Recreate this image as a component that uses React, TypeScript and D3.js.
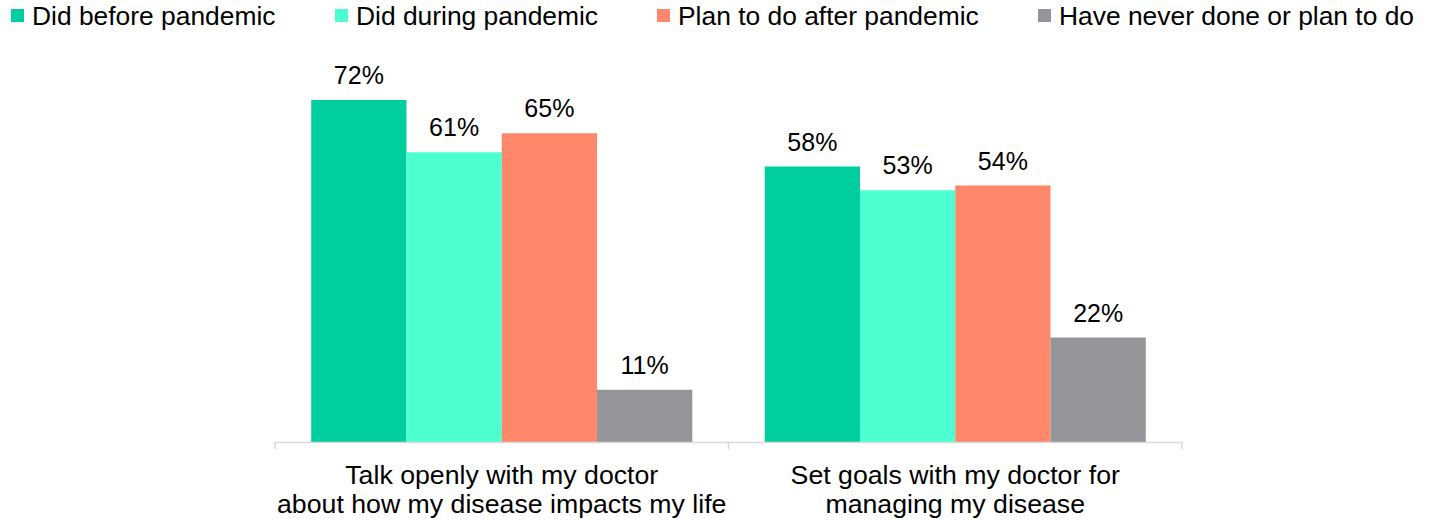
import React from "react";
import * as d3 from "d3";

const categories = [
  ["Talk openly with my doctor", "about how my disease impacts my life"],
  ["Set goals with my doctor for", "managing my disease"],
];
const seriesNames = [
  "Did before pandemic",
  "Did during pandemic",
  "Plan to do after pandemic",
  "Have never done or plan to do",
];
const seriesColors = ["#00CE9E", "#4CFFD0", "#FF886A", "#949599"];
const values = [
  [72, 61, 65, 11],
  [58, 53, 54, 22],
];
const legendX = [11, 335, 657, 1038];

const W = 1429;
const H = 520;
const FONT = "Arial, 'Liberation Sans', sans-serif";

export default function App() {
  const catKeys = categories.map((_, i) => String(i));
  const x0 = d3.scaleBand<string>().domain(catKeys).range([275, 1182]).paddingInner(0).paddingOuter(0);
  const x1 = d3
    .scaleBand<string>()
    .domain(seriesNames)
    .range([0, x0.bandwidth()])
    .paddingInner(0)
    .paddingOuter(0.38);
  const y = d3.scaleLinear().domain([0, 80]).range([442, 62]);
  const ticks = [...catKeys.map((k) => x0(k) as number), 1182];

  return (
    <svg width={W} height={H} style={{ position: "absolute", left: 0, top: 0, display: "block" }} fontFamily={FONT}>
      {seriesNames.map((s, i) => (
        <g key={s}>
          <rect x={legendX[i]} y={9} width={13} height={13} fill={seriesColors[i]} />
          <text x={legendX[i] + 21} y={25} fontSize={26.4} fill="#000">
            {s}
          </text>
        </g>
      ))}
      {values.map((row, ci) => (
        <g key={ci} transform={`translate(${x0(catKeys[ci])},0)`}>
          {row.map((v, si) => {
            const bx = x1(seriesNames[si]) as number;
            return (
              <g key={si}>
                <rect x={bx} y={y(v)} width={x1.bandwidth()} height={y(0) - y(v)} fill={seriesColors[si]} />
                <text x={bx + x1.bandwidth() / 2} y={y(v) - 16} fontSize={25} textAnchor="middle" fill="#000">
                  {v}%
                </text>
              </g>
            );
          })}
          <text textAnchor="middle" fontSize={26.7} fill="#000">
            {categories[ci].map((line, li) => (
              <tspan key={li} x={x0.bandwidth() / 2} y={484 + li * 29}>
                {line}
              </tspan>
            ))}
          </text>
        </g>
      ))}
      <line x1={275} x2={1182} y1={442.5} y2={442.5} stroke="#D9D9D9" strokeWidth={1.5} />
      {ticks.map((t, i) => (
        <line key={i} x1={t} x2={t} y1={442} y2={449} stroke="#D9D9D9" strokeWidth={1.5} />
      ))}
    </svg>
  );
}
